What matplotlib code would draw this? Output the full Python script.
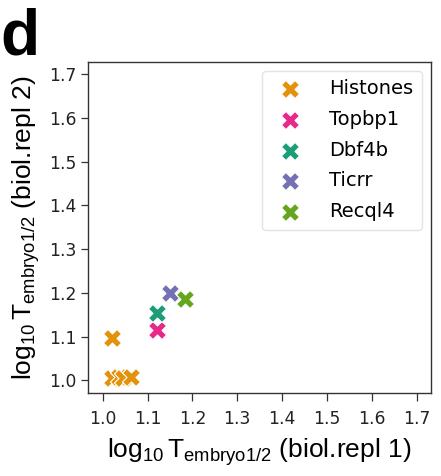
import matplotlib
matplotlib.use("Agg")
import matplotlib.pyplot as plt

# gene groups and their half-life estimates (log10) in the two biological replicates
groups = ["Histones", "Topbp1", "Dbf4b", "Ticrr", "Recql4"]
colors = ["#e3920c", "#e7298a", "#1b9e77", "#7570b3", "#66a61e"]
repl1 = [
    [1.021, 1.020, 1.036, 1.046, 1.064],
    [1.122],
    [1.122],
    [1.151],
    [1.183],
]
repl2 = [
    [1.097, 1.006, 1.008, 1.006, 1.007],
    [1.116],
    [1.154],
    [1.199],
    [1.187],
]
ticks = [1.0, 1.1, 1.2, 1.3, 1.4, 1.5, 1.6, 1.7]

plt.rcParams["mathtext.fontset"] = "custom"
plt.rcParams["mathtext.rm"] = "Liberation Sans"
plt.rcParams["mathtext.it"] = "Liberation Sans"

fig = plt.figure(figsize=(4.41, 4.76), dpi=100)
ax = fig.add_axes([0.1995, 0.174, 0.7775, 0.696])

for name, col, xs, ys in zip(groups, colors, repl1, repl2):
    ax.scatter(xs, ys, marker="X", s=170, color=col, edgecolor="white",
               linewidth=0.8, label=name, zorder=3)

ax.set_xlim(0.967, 1.732)
ax.set_ylim(0.971, 1.728)
ax.set_xticks(ticks)
ax.set_yticks(ticks)
ax.set_xticklabels([f"{t:.1f}" for t in ticks])
ax.set_yticklabels([f"{t:.1f}" for t in ticks])
ax.tick_params(labelsize=12.3, length=5, width=0.9, colors="#333333",
               labelcolor="#222222")
ax.tick_params(axis="x", length=6, pad=6)
for sp in ax.spines.values():
    sp.set_color("#333333")
    sp.set_linewidth(1.0)

lab = r"$\mathrm{log_{10}\,T_{embryo1/2}}$"
ax.set_xlabel(lab + " (biol.repl 1)", fontsize=19, family="Liberation Sans",
              labelpad=6)
ax.set_ylabel(lab + " (biol.repl 2)", fontsize=19, family="Liberation Sans",
              labelpad=5)

leg = ax.legend(loc="upper right", fontsize=14, frameon=True,
                handletextpad=1.0, borderpad=0.45, labelspacing=0.6,
                borderaxespad=0.45, scatterpoints=1)
leg.get_frame().set_edgecolor("#dddddd")

fig.text(0.0, 0.985, "d", fontsize=46, fontweight="bold",
         family="Liberation Sans", va="top", ha="left")

fig.savefig("out.png", dpi=100)
